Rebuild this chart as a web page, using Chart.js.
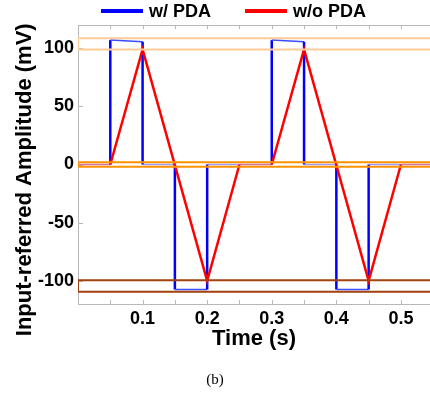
<!DOCTYPE html>
<html>
<head>
<meta charset="utf-8">
<script src="https://cdn.jsdelivr.net/npm/chart.js@4.4.1/dist/chart.umd.min.js"></script>
<style>
  html, body { margin: 0; padding: 0; background: #fff; }
  #wrap { position: relative; width: 430px; height: 396px; }
  #legend {
    position: absolute; top: 1px; left: 101px;
    display: flex; gap: 34px;
    font: bold 18px 'Liberation Sans', Arial, sans-serif; line-height: 20px;
  }
  .item { display: flex; align-items: center; }
  .swatch { width: 42px; height: 4px; margin-right: 6px; }
</style>
</head>
<body>
<div id="wrap">
  <canvas id="chart" width="430" height="396"></canvas>
  <div id="legend"></div>
</div>
<script>
// time (s) / amplitude (mV)
const PDA_T = [0, 0.05, 0.05, 0.1, 0.1, 0.15, 0.15, 0.2, 0.2, 0.3, 0.3, 0.35, 0.35, 0.4, 0.4, 0.45, 0.45, 0.545];
const PDA_MV = [0, 0, 107, 105.5, 0, 0, -107.5, -107.5, 0, 0, 107, 105.5, 0, 0, -107.5, -107.5, 0, 0];
const NOPDA_T = [0, 0.05, 0.1, 0.2, 0.25, 0.3, 0.35, 0.45, 0.5, 0.545];
const NOPDA_MV = [0, 0, 99, -100, 0, 0, 99, -100, 0, 0];

// tolerance bands drawn as open boxes
const BAND_LOW = [99, -2, -109.5];
const BAND_HIGH = [108.5, 2, -99.5];
const BAND_COLORS = ['#ffcc99', '#ff9200', '#a3420f'];

const X_TICKS = [0.1, 0.2, 0.3, 0.4, 0.5];
const X_MINOR_TICKS = [0.05, 0.1, 0.15, 0.2, 0.25, 0.3, 0.35, 0.4, 0.45, 0.5];
const Y_TICKS = [-100, -50, 0, 50, 100];
const X_MIN = 0;
const X_MAX = 0.545;
const Y_MIN = -120;
const Y_MAX = 120;

const FONT = "'Liberation Sans', Arial, sans-serif";
const AXIS_GREY = '#b8b8b8';

function toPoints(xs, ys) {
  return xs.map((x, i) => ({ x, y: ys[i] }));
}

function bandBox(lo, hi) {
  const end = X_MAX + 0.02;
  return [
    { x: X_MIN, y: lo }, { x: end, y: lo },
    { x: end, y: hi }, { x: X_MIN, y: hi }, { x: X_MIN, y: lo },
  ];
}

const isVertical = (ctx) => ctx.p0.parsed.x === ctx.p1.parsed.x;
const isFlatZero = (ctx) => ctx.p0.parsed.y === 0 && ctx.p1.parsed.y === 0;

const series = [
  {
    label: 'w/ PDA',
    color: '#0000ff',
    data: toPoints(PDA_T, PDA_MV),
    segment: {
      borderWidth: (ctx) => (isVertical(ctx) ? 2.5 : 1.5),
      borderColor: (ctx) => (isFlatZero(ctx) ? 'rgba(90, 90, 255, 0.6)' : isVertical(ctx) ? '#0000ff' : '#3a4cff'),
    },
  },
  {
    label: 'w/o PDA',
    color: '#ff0000',
    data: toPoints(NOPDA_T, NOPDA_MV),
    segment: {
      borderWidth: (ctx) => (isFlatZero(ctx) ? 1.5 : 2.5),
      borderColor: (ctx) => (isFlatZero(ctx) ? 'rgba(255, 90, 90, 0.55)' : '#ff0000'),
    },
  },
];

// boxes first so they sit on top, red above blue
const datasets = [
  ...BAND_LOW.map((lo, i) => ({
    label: 'band' + i,
    data: bandBox(lo, BAND_HIGH[i]),
    borderColor: BAND_COLORS[i],
    borderWidth: 2,
    pointRadius: 0,
  })),
  ...series.slice().reverse().map((s) => ({
    label: s.label,
    data: s.data,
    borderColor: s.color,
    borderWidth: 2.5,
    pointRadius: 0,
    segment: s.segment,
  })),
];

const legend = document.getElementById('legend');
series.forEach((s) => {
  const item = document.createElement('div');
  item.className = 'item';
  item.innerHTML = `<span class="swatch" style="background:${s.color}"></span><span>${s.label}</span>`;
  legend.appendChild(item);
});

// inward tick marks and the top frame line
const frameTicks = {
  id: 'frameTicks',
  beforeDatasetsDraw(chart) {
    const { ctx, chartArea: a, scales: { x, y } } = chart;
    ctx.save();
    ctx.strokeStyle = AXIS_GREY;
    ctx.lineWidth = 1;
    ctx.beginPath();
    ctx.moveTo(a.left, a.top + 0.5);
    ctx.lineTo(a.right, a.top + 0.5);
    X_MINOR_TICKS.forEach((v) => {
      const px = Math.round(x.getPixelForValue(v)) + 0.5;
      ctx.moveTo(px, a.bottom);
      ctx.lineTo(px, a.bottom - 4);
      ctx.moveTo(px, a.top);
      ctx.lineTo(px, a.top + 4);
    });
    Y_TICKS.forEach((v) => {
      const py = Math.round(y.getPixelForValue(v)) + 0.5;
      ctx.moveTo(a.left, py);
      ctx.lineTo(a.left + 5, py);
    });
    ctx.stroke();
    ctx.restore();
  },
};

Chart.defaults.font.family = FONT;
Chart.defaults.color = '#000';

new Chart(document.getElementById('chart'), {
  type: 'line',
  data: { datasets },
  plugins: [frameTicks],
  options: {
    responsive: false,
    animation: false,
    layout: { padding: { top: 25, right: 0, bottom: 7, left: 0 } },
    plugins: {
      legend: { display: false },
      tooltip: { enabled: false },
      subtitle: {
        display: true,
        position: 'bottom',
        text: '(b)',
        color: '#000',
        font: { family: "'Liberation Serif', 'Times New Roman', serif", size: 15, weight: 'normal' },
      },
    },
    scales: {
      x: {
        type: 'linear',
        min: X_MIN,
        max: X_MAX,
        afterBuildTicks(scale) {
          scale.ticks = X_TICKS.map((value) => ({ value }));
        },
        afterFit(scale) {
          scale.height = 67;
        },
        grid: { display: false, drawTicks: false },
        border: { display: true, color: AXIS_GREY, width: 1 },
        ticks: {
          padding: 4,
          font: { size: 18, weight: 'bold' },
          callback: (v) => v.toFixed(1),
        },
        title: {
          display: true,
          text: 'Time (s)',
          font: { size: 22, weight: 'bold' },
          padding: { top: 0, bottom: 19 },
        },
      },
      y: {
        min: Y_MIN,
        max: Y_MAX,
        afterBuildTicks(scale) {
          scale.ticks = Y_TICKS.map((value) => ({ value }));
        },
        afterFit(scale) {
          scale.width = 78;
        },
        grid: { display: false, drawTicks: false },
        border: { display: true, color: AXIS_GREY, width: 1 },
        ticks: {
          padding: 4,
          font: { size: 18, weight: 'bold' },
        },
        title: {
          display: true,
          // trailing spaces push the centred label down to where the figure has it
          text: 'Input-referred Amplitude (mV)' + '\u00a0'.repeat(5),
          font: { size: 22, weight: 'bold' },
          padding: { top: 12, bottom: 0 },
        },
      },
    },
  },
});
</script>
</body>
</html>
